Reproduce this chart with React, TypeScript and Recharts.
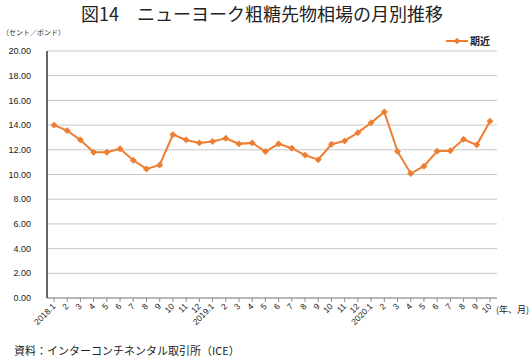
import { LineChart, Line, XAxis, YAxis, CartesianGrid } from 'recharts';

const months = [
   '2018.1', '2', '3', '4', '5', '6', '7', '8', '9', '10', '11', '12',
   '2019.1', '2', '3', '4', '5', '6', '7', '8', '9', '10', '11', '12',
   '2020.1', '2', '3', '4', '5', '6', '7', '8', '9', '10',
];

const nearby = [
   14.0, 13.55, 12.8, 11.8, 11.8, 12.08, 11.15, 10.45, 10.77, 13.23, 12.8, 12.56,
   12.67, 12.93, 12.48, 12.56, 11.86, 12.48, 12.13, 11.57, 11.2, 12.45, 12.72, 13.39,
   14.19, 15.07, 11.87, 10.08, 10.67, 11.89, 11.92, 12.85, 12.4, 14.32,
];

const yTicks = [0, 2, 4, 6, 8, 10, 12, 14, 16, 18, 20];

const seriesName = '期近';
const orange = '#ed7d31';
const jp = '"Noto Sans CJK JP", sans-serif';
const num = '"Liberation Sans", Arial, sans-serif';

const data = months.map((m, i) => ({ key: i, month: m, value: nearby[i] }));

function Diamond(props: any) {
   const { cx, cy } = props;
   if (cx == null || cy == null) return null;
   const r = 3.2;
   return (
      <polygon
         points={`${cx},${cy - r} ${cx + r},${cy} ${cx},${cy + r} ${cx - r},${cy}`}
         fill={orange}
         stroke={orange}
         strokeWidth={0.5}
      />
   );
}

function MonthTick(props: any) {
   const { x, y, payload } = props;
   const label = months[payload.value];
   return (
      <text
         x={x + 2}
         y={y + 3}
         transform={`rotate(-45 ${x + 2} ${y + 3})`}
         textAnchor="end"
         fontSize={8.5}
         fontFamily={num}
         fill="#222"
      >
         {label}
      </text>
   );
}

function LegendBox() {
   return (
      <div style={{ display: 'flex', alignItems: 'center', fontFamily: jp, fontSize: 10, fontWeight: 700, color: '#222' }}>
         <svg width={22} height={8}>
            <line x1={0} y1={4} x2={22} y2={4} stroke={orange} strokeWidth={2} />
            <polygon points="11,0.8 14.2,4 11,7.2 7.8,4" fill={orange} />
         </svg>
         <span style={{ marginLeft: 2 }}>{seriesName}</span>
      </div>
   );
}

export default function App() {
   return (
      <div style={{ position: 'absolute', left: 0, top: 0, width: 532, height: 357, background: '#fff' }}>
         <div
            style={{
               position: 'absolute', left: 0, width: 524, top: 0, textAlign: 'center',
               fontFamily: jp, fontSize: 18, fontWeight: 400, color: '#222',
            }}
         >
            図14　ニューヨーク粗糖先物相場の月別推移
         </div>
         <div style={{ position: 'absolute', left: 2, top: 27, fontFamily: jp, fontSize: 7, color: '#333' }}>
            （セント／ポンド）
         </div>
         <div style={{ position: 'absolute', left: 446, top: 33 }}>
            <LegendBox />
         </div>
         <LineChart width={532} height={357} data={data} margin={{ top: 51, right: 35, bottom: 14, left: 0 }}>
            <CartesianGrid vertical={false} stroke="#c8c8c8" strokeWidth={1} />
            <XAxis
               dataKey="key"
               interval={0}
               height={45}
               padding={{ left: 7, right: 7 }}
               tick={<MonthTick />}
               tickSize={4}
               stroke="#8c8c8c"
               tickLine={{ stroke: '#8c8c8c' }}
            />
            <YAxis
               width={47}
               domain={[0, 20]}
               ticks={yTicks}
               interval={0}
               tickFormatter={(v: number) => v.toFixed(2)}
               tickLine={false}
               axisLine={{ stroke: '#666', strokeWidth: 2 }}
               tickMargin={10}
               tick={{ fontSize: 9, fontFamily: num, fill: '#222' }}
            />
            <Line
               type="linear"
               dataKey="value"
               name={seriesName}
               stroke={orange}
               strokeWidth={2}
               dot={<Diamond />}
               activeDot={false}
               isAnimationActive={false}
            />
         </LineChart>
         <div style={{ position: 'absolute', left: 496, top: 303, fontFamily: jp, fontSize: 9, color: '#222' }}>
            (年、月)
         </div>
         <div style={{ position: 'absolute', left: 14, top: 342, fontFamily: jp, fontSize: 11, color: '#222' }}>
            資料：インターコンチネンタル取引所（ICE）
         </div>
      </div>
   );
}
